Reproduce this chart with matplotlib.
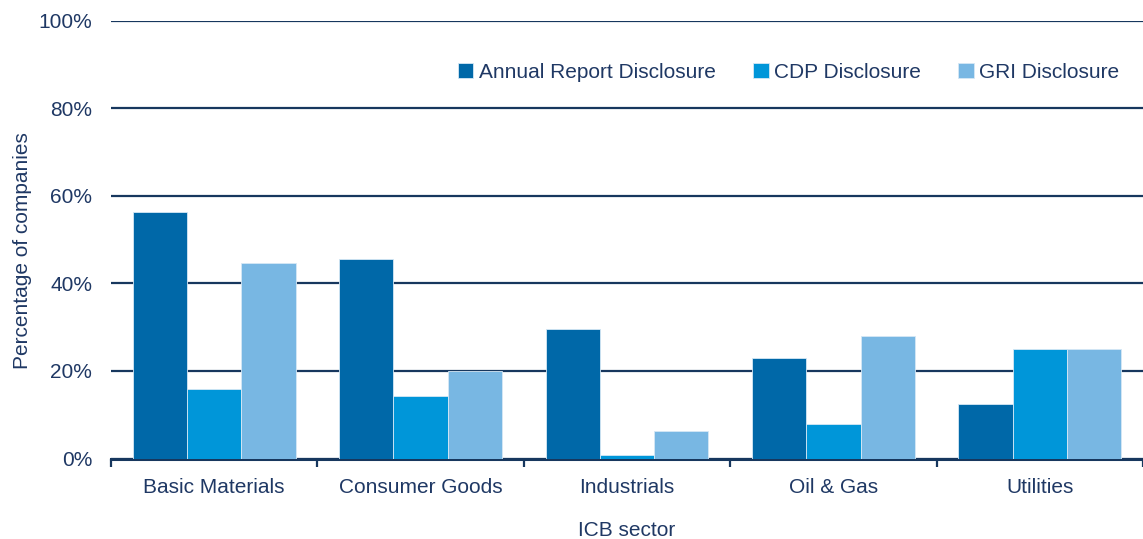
import numpy as np
import matplotlib.pyplot as plt
from matplotlib.ticker import FuncFormatter

plt.rcParams['font.family'] = ['Liberation Sans', 'DejaVu Sans']

# Disclosure rates per ICB sector (%)
sectors = ['Basic Materials', 'Consumer Goods', 'Industrials', 'Oil & Gas', 'Utilities']
annual_report = [56.3, 45.6, 29.6, 23.0, 12.5]
cdp = [15.9, 14.2, 0.8, 7.8, 25.0]
gri = [44.7, 20.0, 6.2, 27.9, 25.0]

series = [('Annual Report Disclosure', annual_report, '#0068A8'),
          ('CDP Disclosure', cdp, '#0096D9'),
          ('GRI Disclosure', gri, '#78B7E3')]

navy = '#17375E'
txt = '#1F3864'
fs = 15

fig = plt.figure(figsize=(11.43, 5.39), dpi=100)
ax = fig.add_axes([111/1143, (539-458.5)/539, 1 - 111/1143, (458.5-20.5)/539])

x = np.arange(len(sectors))
w = 0.263
for i, (lbl, vals, col) in enumerate(series):
    ax.bar(x + (i - 1) * w, vals, width=w, color=col, label=lbl,
           edgecolor='#D6E8F5', linewidth=0.6, zorder=3)

ax.set_xlim(-0.5, len(sectors) - 0.5)
ax.set_ylim(0, 100)
ax.set_yticks(np.arange(0, 101, 20))
ax.yaxis.set_major_formatter(FuncFormatter(lambda v, p: f'{v:.0f}%'))
ax.grid(axis='y', color=navy, linewidth=1.6, zorder=0)
ax.set_axisbelow(True)

# sector labels centred, tick marks between groups
ax.set_xticks(x)
ax.set_xticklabels(sectors)
ax.set_xticks(np.arange(-0.5, len(sectors), 1.0), minor=True)
ax.tick_params(axis='x', which='major', length=0, pad=14, labelsize=fs, labelcolor=txt)
ax.tick_params(axis='x', which='minor', length=6, width=1.6, color=navy, direction='out')
ax.tick_params(axis='y', length=0, pad=13.5, labelsize=fs, labelcolor=txt)

for s in ['top', 'right', 'left']:
    ax.spines[s].set_visible(False)
ax.spines['bottom'].set_color(navy)
ax.spines['bottom'].set_linewidth(2.2)

ax.set_ylabel('Percentage of companies', fontsize=fs, color=txt, labelpad=5, y=0.474)
ax.set_xlabel('ICB sector', fontsize=fs, color=txt, labelpad=17)

leg = ax.legend(loc='upper right', bbox_to_anchor=(0.985, 0.922), ncol=3, frameon=False,
                fontsize=fs, handlelength=0.75, handleheight=0.75, handletextpad=0.25,
                columnspacing=1.8, borderaxespad=0)
for t in leg.get_texts():
    t.set_color(txt)

fig.savefig('out.png', dpi=100)
